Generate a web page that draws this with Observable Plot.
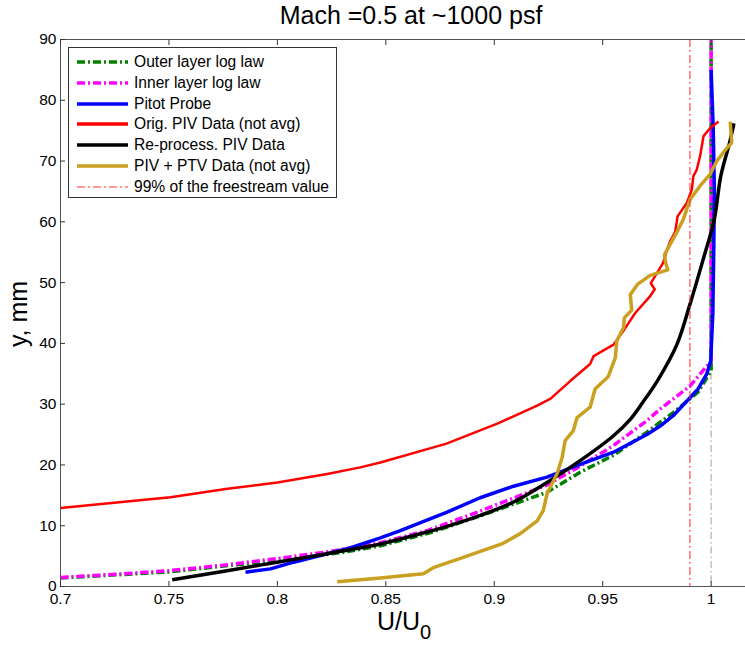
<!DOCTYPE html>
<html><head><meta charset="utf-8">
<script src="https://cdn.jsdelivr.net/npm/d3@7"></script>
<script src="https://cdn.jsdelivr.net/npm/@observablehq/plot@0.6"></script>
<style>
html,body{margin:0;padding:0;background:#fff;overflow:hidden;}
#wrap{position:relative;width:745px;height:645px;overflow:hidden;font-family:Arial,"Liberation Sans",sans-serif;color:#000;}
#wrap svg.plot{position:absolute;left:0;top:0;max-width:none !important;width:754px;height:645px;}
.title{position:absolute;left:0;width:822px;top:0;text-align:center;font-size:25px;line-height:30px;white-space:nowrap;}
.xlabel{position:absolute;left:0;width:808px;top:606px;text-align:center;font-size:25px;line-height:30px;white-space:nowrap;}
.xlabel sub{font-size:20px;vertical-align:-9px;line-height:0;}
.ylabel{position:absolute;left:18px;top:314px;transform:translate(-50%,-50%) rotate(-90deg);font-size:25px;white-space:nowrap;line-height:28px;}
.legend{position:absolute;left:68px;top:47px;width:269px;height:151px;border:1px solid #333;background:#fff;box-sizing:border-box;}
.legend .row{position:absolute;left:0;height:20px;display:flex;align-items:center;font-size:15.6px;white-space:nowrap;}
.legend .row svg{margin-left:8px;margin-right:6px;}
</style></head><body><div id="wrap"></div>
<script>
const titleText = "Mach =0.5 at ~1000 psf";
const xTicks = [0.7, 0.75, 0.8, 0.85, 0.9, 0.95, 1];
const yTicks = [0, 10, 20, 30, 40, 50, 60, 70, 80, 90];
const freestream99 = 0.99;
const freestream = 1.0;

const outerLog = [[0.700,1.4],[0.750,2.4],[0.800,4.3],[0.830,5.6],[0.8475,6.7],[0.870,8.8],[0.8935,11.6],[0.9243,15.5],[0.9396,18.8],[0.955,21.6],[0.9704,25.4],[0.9825,28.6],[0.994,32.0],[1.000,35.5],[1.000,90]];
const innerLog = [[0.700,1.5],[0.725,2.0],[0.750,2.6],[0.775,3.5],[0.800,4.6],[0.825,5.8],[0.8475,7.2],[0.870,9.3],[0.8935,12.4],[0.9243,16.7],[0.9396,19.8],[0.955,23.2],[0.9704,27.3],[0.9765,29.2],[0.9903,33.0],[1.000,37.1],[1.000,90]];
const pitot = [[0.7853,2.35],[0.7968,2.9],[0.8075,4.0],[0.8198,5.1],[0.8321,6.2],[0.8475,8.0],[0.8567,9.2],[0.878,12.2],[0.8935,14.6],[0.9089,16.5],[0.9243,18.0],[0.9396,20.1],[0.955,22.1],[0.9704,25.0],[0.9765,26.4],[0.9825,28.1],[0.994,32.5],[0.998,35.0],[0.9998,37.1],[1.0008,45],[1.0012,55],[1.0015,65],[1.001,75],[1.0005,80],[1.0,85]];
const origPIV = [[0.700,12.9],[0.7507,14.7],[0.777,16.1],[0.800,17.1],[0.823,18.5],[0.8382,19.6],[0.8475,20.4],[0.878,23.5],[0.9014,26.8],[0.9200,29.8],[0.9260,30.9],[0.935,33.8],[0.9442,36.6],[0.9458,37.9],[0.955,39.8],[0.960,42.3],[0.9650,45.0],[0.9715,47.6],[0.9740,48.9],[0.9722,49.9],[0.9778,53.2],[0.9795,55.2],[0.9811,56.8],[0.9834,58.3],[0.9842,60.1],[0.9845,60.9],[0.9888,63.1],[0.9911,65.3],[0.9918,67.5],[0.9934,68.6],[0.9949,70.8],[0.9965,74.1],[0.9995,75.4],[1.0034,76.5]];
const rePIV = [[0.7515,1.1],[0.7768,2.6],[0.7999,4.0],[0.8229,5.4],[0.8475,7.0],[0.8629,8.4],[0.8782,9.9],[0.8935,11.7],[0.9089,13.9],[0.9243,17.1],[0.9396,20.7],[0.955,24.8],[0.9625,27.4],[0.9685,30.3],[0.9755,34.0],[0.9842,39.8],[0.9903,46.5],[0.9968,54.4],[1.0014,60.3],[1.0045,67.6],[1.0085,73.0],[1.0105,76.2]];
const ptv = [[0.8276,0.8],[0.8475,1.4],[0.8673,2.1],[0.8719,3.1],[0.8857,4.8],[0.9041,7.1],[0.912,8.7],[0.9198,10.8],[0.9226,12.5],[0.9244,15.3],[0.929,18.6],[0.9313,21.2],[0.9327,24.0],[0.9364,25.6],[0.9382,27.8],[0.9442,29.5],[0.9465,32.5],[0.9525,34.5],[0.9558,37.6],[0.9565,40.4],[0.9596,42.6],[0.9600,44.2],[0.9634,45.5],[0.9627,48.0],[0.9660,49.7],[0.9719,51.2],[0.9800,52.1],[0.9790,53.3],[0.9785,54.6],[0.9811,56.3],[0.9842,58.3],[0.9872,60.4],[0.9903,63.7],[0.9949,65.9],[0.9995,67.8],[1.0026,70.0],[1.0072,72.1],[1.0095,73.0],[1.0088,76.5]];

const seriesNames = ["Outer layer log law","Inner layer log law","Pitot Probe","Orig. PIV Data (not avg)","Re-process. PIV Data","PIV + PTV Data (not avg)","99% of the freestream value"];
const seriesData = [outerLog, innerLog, pitot, origPIV, rePIV, ptv];
const seriesColors = ["#008000","#ff00ff","#0000ff","#ff0000","#000000","#c9a020","#ff2a2a"];
const seriesWidths = [3.5,3.5,3.5,2.5,3.5,3.5,1];
const seriesDash = ["8,3,2,3","8,3,2,3",null,null,null,null,"8,3,2,3"];
const seriesCurve = ["linear","linear","linear","linear","catmull-rom","linear"];

const rows = [];
seriesData.forEach((arr, s) => arr.forEach(([x, y], i) => rows.push({s, x, y, i})));

const lineMarks = seriesData.map((arr, s) => Plot.line(rows.filter(r => r.s === s), {
  x: "x", y: "y", stroke: seriesColors[s], strokeWidth: seriesWidths[s],
  strokeDasharray: seriesDash[s] || undefined, strokeLinejoin: "round", strokeLinecap: "butt", curve: seriesCurve[s]
}));

const plot = Plot.plot({
  width: 754, height: 645,
  marginLeft: 60, marginRight: 0, marginTop: 39, marginBottom: 59,
  x: {domain: [0.7, 1.02], label: null},
  y: {domain: [0, 90], label: null},
  style: {fontFamily: "Arial, 'Liberation Sans', sans-serif", fontSize: "15.5px", color: "#000", background: "transparent", overflow: "visible", maxWidth: "none"},
  marks: [
    Plot.ruleX([freestream], {stroke: "#c0c0c0", strokeWidth: 1.5, strokeDasharray: "7,3,1.5,3"}),
    ...lineMarks,
    Plot.ruleX([freestream99], {stroke: seriesColors[6], strokeWidth: seriesWidths[6], strokeDasharray: seriesDash[6], dx: 0.5}),
    Plot.frame({stroke: "#555", strokeWidth: 1}),
    Plot.axisX(xTicks, {anchor: "bottom", tickSize: 0, tickPadding: 6, tickFormat: d => String(d), fill: "#000"}),
    Plot.axisX(xTicks, {anchor: "bottom", tickSize: -5, tickFormat: () => "", stroke: "#333"}),
    Plot.axisX(xTicks, {anchor: "top", tickSize: -5, tickFormat: () => "", stroke: "#333"}),
    Plot.axisY(yTicks, {anchor: "left", tickSize: 0, tickPadding: 4, tickFormat: d => String(d), fill: "#000"}),
    Plot.axisY(yTicks, {anchor: "left", tickSize: -5, tickFormat: () => "", stroke: "#333"})
  ]
});
plot.classList.add("plot");
const wrap = document.getElementById("wrap");
wrap.appendChild(plot);

const t = document.createElement("div"); t.className = "title"; t.textContent = titleText; wrap.appendChild(t);
const xl = document.createElement("div"); xl.className = "xlabel"; xl.innerHTML = "U/U<sub>0</sub>"; wrap.appendChild(xl);
const yl = document.createElement("div"); yl.className = "ylabel"; yl.textContent = "y, mm"; wrap.appendChild(yl);

const lg = document.createElement("div"); lg.className = "legend";
seriesNames.forEach((name, s) => {
  const r = document.createElement("div"); r.className = "row";
  r.style.top = (4 + s * 20.8) + "px";
  const dash = seriesDash[s] ? `stroke-dasharray="${seriesDash[s]}"` : "";
  const w = s === 6 ? 1 : 3.5;
  r.innerHTML = `<svg width="51" height="8"><line x1="0" y1="4" x2="51" y2="4" stroke="${seriesColors[s]}" stroke-width="${w}" ${dash}/></svg><span>${name}</span>`;
  lg.appendChild(r);
});
wrap.appendChild(lg);
</script></body></html>
